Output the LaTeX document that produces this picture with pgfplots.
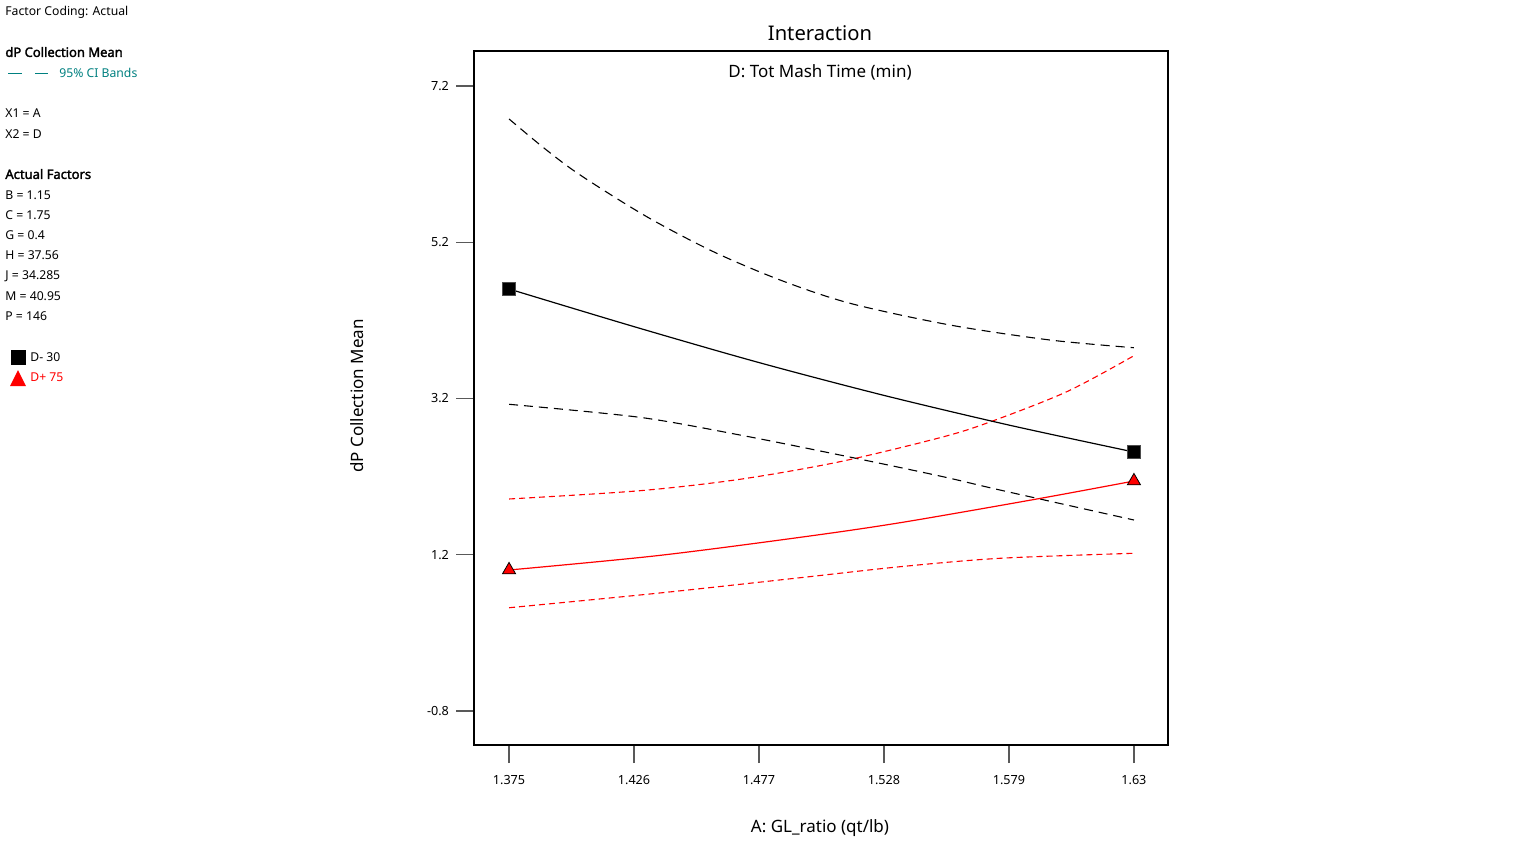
\documentclass[border=0pt]{standalone}
\usepackage{pgfplots}
\pgfplotsset{compat=1.18}
\usepackage{fontspec}
\setmainfont{Noto Sans}
\newfontfamily\boldsans{Noto Sans}[FakeBold=2.2]
\definecolor{cibands}{RGB}{0,128,128}
\definecolor{myred}{RGB}{255,0,0}
\begin{document}
\begin{tikzpicture}[x=0.5pt,y=-0.5pt]
\useasboundingbox (0,0) rectangle (1536,864);
\begin{axis}[
  at={(237pt,-372.5pt)}, anchor=south west,
  scale only axis, width=347pt, height=347pt,
  xmin=1.3607, xmax=1.6439, ymin=-1.235, ymax=7.648,
  xtick={1.375,1.426,1.477,1.528,1.579,1.63},
  xticklabels={1.375,1.426,1.477,1.528,1.579,1.63},
  ytick={-0.8,1.2,3.2,5.2,7.2},
  yticklabels={-0.8,1.2,3.2,5.2,7.2},
  tick align=outside, major tick length=9pt,
  every tick/.style={black!65, line width=0.6pt},
  axis line style={black, line width=0.7pt},
  tick label style={font=\fontsize{6.3}{7}\selectfont},
  xticklabel style={yshift=-2.5pt},
  xtick pos=bottom, ytick pos=left,
  clip=false,
]
% black upper CI
\addplot[black, line width=0.55pt, dash pattern=on 4.5pt off 3pt, smooth, tension=0.5] coordinates {
(1.375,6.778) (1.3895,6.40) (1.404,6.061) (1.4312,5.527) (1.4584,5.079) (1.4856,4.717) (1.5141,4.419) (1.5549,4.141) (1.5957,3.949) (1.63,3.85)};
% black lower CI
\addplot[black, line width=0.55pt, dash pattern=on 4.5pt off 3pt, smooth] coordinates {
(1.375,3.126) (1.4284,2.959) (1.4692,2.733) (1.5100,2.477) (1.5508,2.208) (1.5753,2.029) (1.63,1.645)};
% red upper CI
\addplot[myred, line width=0.55pt, dash pattern=on 3pt off 2pt, smooth] coordinates {
(1.375,1.914) (1.4284,2.020) (1.4692,2.166) (1.5100,2.391) (1.5508,2.698) (1.5704,2.890) (1.6026,3.287) (1.63,3.748)};
% red lower CI
\addplot[myred, line width=0.55pt, dash pattern=on 3pt off 2pt, smooth] coordinates {
(1.375,0.522) (1.4353,0.707) (1.4937,0.906) (1.5345,1.047) (1.5753,1.155) (1.63,1.219)};
% black mean D- 30
\addplot[black, line width=0.6pt, smooth] coordinates {
(1.375,4.602) (1.426,4.12) (1.477,3.66) (1.528,3.24) (1.579,2.86) (1.63,2.515)};
% red mean D+ 75
\addplot[myred, line width=0.6pt, smooth] coordinates {
(1.375,1.005) (1.4353,1.188) (1.4937,1.423) (1.5345,1.610) (1.5904,1.914) (1.63,2.144)};
% markers
\addplot[only marks, mark=square*, mark size=3.3pt, mark options={fill=black, draw=black!70}] coordinates {(1.375,4.602) (1.63,2.515)};
\addplot[only marks, mark=triangle*, mark size=3.8pt, mark options={fill=myred, draw=black, line width=0.4pt}] coordinates {(1.375,1.005) (1.63,2.144)};
\end{axis}
% titles
\node[font=\fontsize{10.1}{12}\selectfont] at (820,33) {Interaction};
\node[font=\fontsize{8.5}{10}\selectfont] at (820,72) {D: Tot Mash Time (min)};
\node[font=\fontsize{8.5}{10}\selectfont] at (820,828) {A: GL\_ratio (qt/lb)};
\node[font=\fontsize{8.5}{10}\selectfont, rotate=90] at (357,396) {dP Collection Mean};
% side legend
\begin{scope}[every node/.style={anchor=west, inner sep=0pt, font=\fontsize{6.1}{7}\selectfont}]
\node at (5,12) {Factor Coding: Actual};
\node[font=\boldsans\fontsize{6.5}{7}\selectfont] at (5,52) {dP Collection Mean};
\draw[cibands, line width=0.5pt] (8,73) -- (22,73) (35,73) -- (48,73);
\node[text=cibands] at (59,73) {95\% CI Bands};
\node at (5,113) {X1 = A};
\node at (5,134) {X2 = D};
\node[font=\boldsans\fontsize{6.5}{7}\selectfont] at (5,174) {Actual Factors};
\node at (5,195) {B = 1.15};
\node at (5,215) {C = 1.75};
\node at (5,235) {G = 0.4};
\node at (5,255) {H = 37.56};
\node at (5,276) {J = 34.285};
\node at (5,296) {M = 40.95};
\node at (5,316) {P = 146};
\fill[black] (11,350) rectangle (26,365);
\node at (30,357) {D- 30};
\fill[myred] (10,386) -- (26,386) -- (18,370) -- cycle;
\node[text=myred] at (30,377) {D+ 75};
\end{scope}
\end{tikzpicture}
\end{document}
